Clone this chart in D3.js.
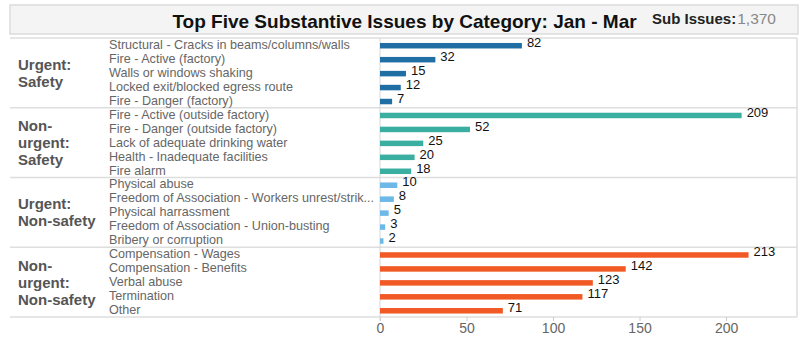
<!DOCTYPE html>
<html>
<head>
<meta charset="utf-8">
<script src="https://cdn.jsdelivr.net/npm/d3@7"></script>
<style>
  body { margin: 0; background: #fff; }
  svg { display: block; font-family: "Liberation Sans", Arial, sans-serif; }
</style>
</head>
<body>
<svg id="chart" width="801" height="338"></svg>
<script>
// data
const groups = ["Urgent: Safety", "Non-urgent: Safety", "Urgent: Non-safety", "Non-urgent: Non-safety"];
const groupLines = [["Urgent:", "Safety"], ["Non-", "urgent:", "Safety"], ["Urgent:", "Non-safety"], ["Non-", "urgent:", "Non-safety"]];
const groupColors = ["#1f6ea4", "#3aafa1", "#6cb8e6", "#f15a24"];

const issues = [
  ["Structural - Cracks in beams/columns/walls", "Fire - Active (factory)", "Walls or windows shaking", "Locked exit/blocked egress route", "Fire - Danger (factory)"],
  ["Fire - Active (outside factory)", "Fire - Danger (outside factory)", "Lack of adequate drinking water", "Health - Inadequate facilities", "Fire alarm"],
  ["Physical abuse", "Freedom of Association - Workers unrest/strike/lockout", "Physical harrassment", "Freedom of Association - Union-busting", "Bribery or corruption"],
  ["Compensation - Wages", "Compensation - Benefits", "Verbal abuse", "Termination", "Other"]
];
const counts = [
  [82, 32, 15, 12, 7],
  [209, 52, 25, 20, 18],
  [10, 8, 5, 3, 2],
  [213, 142, 123, 117, 71]
];
const ticks = [0, 50, 100, 150, 200];
const subIssues = 1370;

const svg = d3.select("#chart");

// flatten rows
const rows = [];
groups.forEach((g, gi) => {
  issues[gi].forEach((name, i) => rows.push({ group: gi, name: name, value: counts[gi][i], key: gi + "|" + i }));
});

const plotTop = 38, plotBottom = 317, x0 = 380, x1 = 797;
const y = d3.scaleBand().domain(rows.map(d => d.key)).range([plotTop, plotBottom]);
const x = d3.scaleLinear().domain([0, 241]).range([x0, x1]);
const groupH = (plotBottom - plotTop) / groups.length;

// title box
svg.append("rect")
  .attr("x", 10).attr("y", 5).attr("width", 788).attr("height", 29)
  .attr("fill", "#f4f4f4").attr("stroke", "#dcdcdc").attr("stroke-width", 1.5);

svg.append("text")
  .attr("x", 404.5).attr("y", 28)
  .attr("text-anchor", "middle")
  .style("font-size", "19px").style("font-weight", "bold").attr("fill", "#111")
  .text("Top Five Substantive Issues by Category: Jan - Mar");

const sub = svg.append("text").attr("x", 652).attr("y", 24);
sub.append("tspan").style("font-size", "15px").style("font-weight", "bold").attr("fill", "#222").text("Sub Issues:");
sub.append("tspan").attr("dx", 1).style("font-size", "15.5px").attr("fill", "#888").text(d3.format(",")(subIssues));

// separators and frame
const sepY = d3.range(groups.length + 1).map(i => plotTop + i * groupH);
svg.append("g").selectAll("line").data(sepY).join("line")
  .attr("x1", 10).attr("x2", x1).attr("y1", d => d).attr("y2", d => d)
  .attr("stroke", "#dedede").attr("stroke-width", 1.5);

svg.append("line").attr("x1", x1).attr("x2", x1).attr("y1", plotTop).attr("y2", plotBottom)
  .attr("stroke", "#dedede").attr("stroke-width", 1.5);

// x axis
const axis = svg.append("g").attr("transform", `translate(0,${plotBottom})`)
  .call(d3.axisBottom(x).tickValues(ticks).tickSize(4).tickPadding(2));
axis.select(".domain").remove();
axis.selectAll(".tick line").attr("stroke", "#ccc");
axis.selectAll(".tick text").attr("fill", "#666").style("font-size", "14px")
  .style("font-family", "'Liberation Sans', Arial, sans-serif");

// zero line
svg.append("line").attr("x1", x(0)).attr("x2", x(0)).attr("y1", plotTop).attr("y2", plotBottom + 4)
  .attr("stroke", "#d6d6d6").attr("stroke-width", 1);

// group labels
const gl = svg.append("g").selectAll("text").data(groups).join("text")
  .attr("x", 18)
  .style("font-size", "15px").style("font-weight", "bold").attr("fill", "#555");
gl.each(function(d, gi) {
  const lines = groupLines[gi];
  const cy = plotTop + gi * groupH + groupH / 2;
  const first = cy - (lines.length - 1) * 17 / 2 + 5.5;
  d3.select(this).selectAll("tspan").data(lines).join("tspan")
    .attr("x", 18).attr("y", (l, i) => first + i * 17).text(l => l);
});

// item labels
const labels = svg.append("g").selectAll("text").data(rows).join("text")
  .attr("x", 109).attr("y", d => y(d.key) + y.bandwidth() / 2 + 4)
  .style("font-size", "12.6px").attr("fill", "#666")
  .text(d => d.name);
labels.each(function() {
  const t = d3.select(this);
  const full = t.text();
  if (this.getComputedTextLength() > 266) {
    let s = full;
    while (s.length > 0 && this.getComputedTextLength() > 266) {
      s = s.slice(0, -1);
      t.text(s + "...");
    }
  }
});

// bars
svg.append("g").selectAll("rect").data(rows).join("rect")
  .attr("x", x(0))
  .attr("y", d => y(d.key) + y.bandwidth() / 2 - 2)
  .attr("width", d => x(d.value) - x(0))
  .attr("height", 5.5)
  .attr("fill", d => groupColors[d.group]);

// value labels
svg.append("g").selectAll("text").data(rows).join("text")
  .attr("x", d => x(d.value) + 5)
  .attr("y", d => y(d.key) + y.bandwidth() / 2 + 2)
  .style("font-size", "13px").attr("fill", "#111")
  .text(d => d.value);
</script>
</body>
</html>
